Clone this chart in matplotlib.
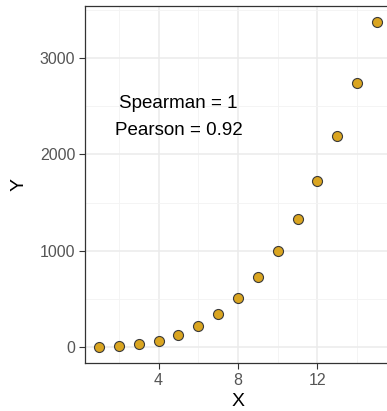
import numpy as np
import matplotlib
matplotlib.use("Agg")
import matplotlib.pyplot as plt
from matplotlib.ticker import MultipleLocator

# data
x_vals = [1, 2, 3, 4, 5, 6, 7, 8, 9, 10, 11, 12, 13, 14, 15]
y_vals = [1, 8, 27, 64, 125, 216, 343, 512, 729, 1000, 1331, 1728, 2197, 2744, 3375]
x_ticks = [4, 8, 12]
y_ticks = [0, 1000, 2000, 3000]
spearman = "1"
pearson = "0.92"

plt.rcParams['font.family'] = ['Liberation Sans', 'DejaVu Sans']

fig = plt.figure(figsize=(3.87, 4.11), dpi=100)
# panel runs a little past the right edge, as in the reference
ax = fig.add_axes([85/387, 48/411, 306/387, 357/411])

ax.scatter(x_vals, y_vals, s=52, c='#DAA520', edgecolors='#3a3a3a',
           linewidths=0.8, zorder=3)

xr = max(x_vals) - min(x_vals)
yr = max(y_vals) - min(y_vals)
ax.set_xlim(min(x_vals) - 0.05*xr, max(x_vals) + 0.05*xr)
ax.set_ylim(min(y_vals) - 0.05*yr, max(y_vals) + 0.05*yr)

ax.set_xticks(x_ticks)
ax.set_yticks(y_ticks)
ax.xaxis.set_minor_locator(MultipleLocator(2))
ax.yaxis.set_minor_locator(MultipleLocator(500))
ax.grid(True, which='major', color='#EBEBEB', linewidth=1.1, zorder=0)
ax.grid(True, which='minor', color='#F3F3F3', linewidth=0.6, zorder=0)
ax.set_axisbelow(True)
ax.tick_params(which='minor', length=0)
ax.tick_params(which='major', length=4, width=0.8, color='#333333',
               labelsize=11.5, labelcolor='#555555', pad=3)
for s in ax.spines.values():
    s.set_color('#333333')
    s.set_linewidth(0.9)

ax.set_xlabel('X', fontsize=14, labelpad=4)
ax.set_ylabel('Y', fontsize=14, labelpad=9)

ax.text(5, 2530, 'Spearman = ' + spearman, ha='center', va='center', fontsize=13.5)
ax.text(5, 2250, 'Pearson = ' + pearson, ha='center', va='center', fontsize=13.5)

fig.savefig('out.png', dpi=100)
